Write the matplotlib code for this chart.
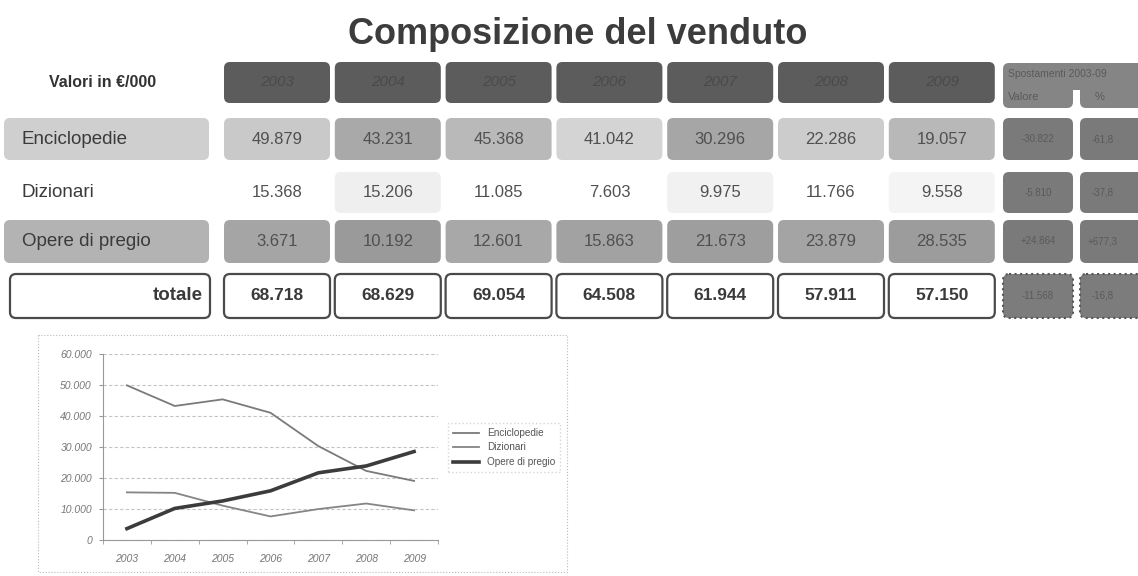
import numpy as np
import matplotlib
matplotlib.use("Agg")
import matplotlib.pyplot as plt
from matplotlib.patches import FancyBboxPatch, Rectangle

plt.rcParams['font.family'] = ['Liberation Sans', 'DejaVu Sans']

# data, valori in €/000
years = ['2003', '2004', '2005', '2006', '2007', '2008', '2009']
enciclopedie = [49879, 43231, 45368, 41042, 30296, 22286, 19057]
dizionari = [15368, 15206, 11085, 7603, 9975, 11766, 9558]
opere = [3671, 10192, 12601, 15863, 21673, 23879, 28535]
totale = [68718, 68629, 69054, 64508, 61944, 57911, 57150]
row_names = ['Enciclopedie', 'Dizionari', 'Opere di pregio']
# spostamenti 2003-09 (valore, %)
delta_val = ['-30.822', '-5.810', '+24.864', '-11.568']
delta_pct = ['-61,8', '-37,8', '+677,3', '-16,8']


def fmt(v):
    return f"{v:,}".replace(",", ".")


W, H = 1138, 576
fig = plt.figure(figsize=(W / 100, H / 100), dpi=100)
bg = fig.add_axes([0, 0, 1, 1])
bg.set_xlim(0, W)
bg.set_ylim(H, 0)
bg.axis('off')


def cell(x0, y0, x1, y1, fc, ec='none', lw=0, ls='-', r=6):
    p = FancyBboxPatch((x0 + r, y0 + r), (x1 - x0) - 2 * r, (y1 - y0) - 2 * r,
                       boxstyle=f"round,pad={r}", fc=fc, ec=ec, lw=lw, ls=ls)
    bg.add_patch(p)


# layout (pixels)
col_x0, pitch, cw = 224, 110.8, 106
rows_y = [(62, 103), (118, 160), (172, 213), (220, 263), (274, 318)]
rx = [(1003, 1073), (1080, 1150)]

bg.text(578, 35, 'Composizione del venduto', ha='center', va='center',
        fontsize=26, fontweight='bold', color='#3c3c3c')

# header
y0, y1 = rows_y[0]
bg.text(103, (y0 + y1) / 2, 'Valori in €/000', ha='center', va='center',
        fontsize=11.5, fontweight='bold', color='#333333')
for i, yr in enumerate(years):
    x = col_x0 + i * pitch
    cell(x, y0, x + cw, y1, '#5c5c5c')
    bg.text(x + cw / 2, (y0 + y1) / 2, yr, ha='center', va='center',
            fontsize=11, style='italic', color='#4a4a4a')
cell(rx[0][0], 63, rx[1][1], 90, '#858585')
cell(rx[0][0], 80, rx[0][1], 108, '#858585')
cell(rx[1][0], 80, rx[1][1], 108, '#858585')
bg.text(rx[0][0] + 5, 74, 'Spostamenti 2003-09', ha='left', va='center',
        fontsize=7.5, color='#5a5a5a')
bg.text(rx[0][0] + 5, 97, 'Valore', ha='left', va='center', fontsize=8, color='#5a5a5a')
bg.text((rx[1][0] + rx[1][1]) / 2 - 15, 97, '%', ha='center', va='center',
        fontsize=8, color='#5a5a5a')

# body rows
series = [enciclopedie, dizionari, opere]
label_fc = ['#cfcfcf', 'none', '#b3b3b3']
cell_fc = [['#c9c9c9', '#a9a9a9', '#b9b9b9', '#d4d4d4', '#a6a6a6', '#cccccc', '#b8b8b8'],
           ['none', '#efefef', 'none', 'none', '#f1f1f1', 'none', '#f4f4f4'],
           ['#a5a5a5', '#9a9a9a', '#a8a8a8', '#a2a2a2', '#9e9e9e', '#a4a4a4', '#9c9c9c']]
for k, (name, vals) in enumerate(zip(row_names, series)):
    y0, y1 = rows_y[k + 1]
    yc = (y0 + y1) / 2
    if label_fc[k] != 'none':
        cell(4, y0, 209, y1, label_fc[k])
    bg.text(22, yc, name, ha='left', va='center', fontsize=13.5, color='#3a3a3a')
    for i, v in enumerate(vals):
        x = col_x0 + i * pitch
        if cell_fc[k][i] != 'none':
            cell(x, y0, x + cw, y1, cell_fc[k][i])
        bg.text(x + cw / 2, yc, fmt(v), ha='center', va='center',
                fontsize=12, color='#505050')
    for j, txt in enumerate([delta_val[k], delta_pct[k]]):
        cell(rx[j][0], y0, rx[j][1], y1, '#7a7a7a')
        bg.text((rx[j][0] + rx[j][1]) / 2 - (12 if j else 0), yc, txt, ha='center',
                va='center', fontsize=7, color='#5a5a5a')

# totale row
y0, y1 = rows_y[4]
yc = (y0 + y1) / 2
cell(10, y0, 210, y1, 'white', ec='#4a4a4a', lw=1.6)
bg.text(203, yc, 'totale', ha='right', va='center', fontsize=13.5,
        fontweight='bold', color='#3a3a3a')
for i, v in enumerate(totale):
    x = col_x0 + i * pitch
    cell(x, y0, x + cw, y1, 'white', ec='#4a4a4a', lw=1.6)
    bg.text(x + cw / 2, yc, fmt(v), ha='center', va='center', fontsize=12.5,
            fontweight='bold', color='#3a3a3a')
for j, txt in enumerate([delta_val[3], delta_pct[3]]):
    cell(rx[j][0], y0, rx[j][1], y1, '#7c7c7c', ec='#555555', lw=1.5, ls=':')
    bg.text((rx[j][0] + rx[j][1]) / 2 - (12 if j else 0), yc, txt, ha='center',
            va='center', fontsize=7, color='#5a5a5a')

# chart frame
bg.add_patch(Rectangle((38, 335), 529, 237, fc='none', ec='#bbbbbb', lw=0.8, ls=':'))

# line chart
ax = fig.add_axes([103 / W, (H - 540) / H, 335 / W, 186 / H])
x = np.arange(len(years))
ax.plot(x, enciclopedie, color='#7a7a7a', lw=1.3, label='Enciclopedie')
ax.plot(x, dizionari, color='#858585', lw=1.3, label='Dizionari')
ax.plot(x, opere, color='#3c3c3c', lw=2.6, label='Opere di pregio')
ax.set_xlim(-0.5, len(years) - 0.5)
ax.set_ylim(0, 60000)
yt = np.arange(0, 60001, 10000)
ax.set_yticks(yt)
ax.set_yticklabels([fmt(v) for v in yt], fontsize=7.5, style='italic', color='#777777')
ax.set_xticks(x)
ax.set_xticklabels(years, fontsize=7.5, style='italic', color='#777777')
ax.set_xticks(np.arange(-0.5, len(years)), minor=True)
ax.tick_params(axis='x', which='major', length=0, pad=10)
ax.tick_params(axis='x', which='minor', length=3, color='#999999')
ax.tick_params(axis='y', length=3, color='#999999', pad=5)
ax.yaxis.grid(True, color='#c4c4c4', lw=0.8, ls=(0, (3, 2)))
ax.set_axisbelow(True)
for s in ['top', 'right']:
    ax.spines[s].set_visible(False)
for s in ['left', 'bottom']:
    ax.spines[s].set_color('#999999')
    ax.spines[s].set_linewidth(0.8)
ax.patch.set_alpha(0)
leg = ax.legend(loc='upper left', bbox_to_anchor=(443 / W, (H - 418) / H),
                bbox_transform=fig.transFigure, fontsize=7.2, frameon=True,
                fancybox=False, handlelength=2.6, borderpad=0.5, labelspacing=0.45)
leg.get_frame().set_edgecolor('#cccccc')
leg.get_frame().set_linestyle(':')
for t in leg.get_texts():
    t.set_color('#555555')

fig.savefig('out.png', dpi=100)
